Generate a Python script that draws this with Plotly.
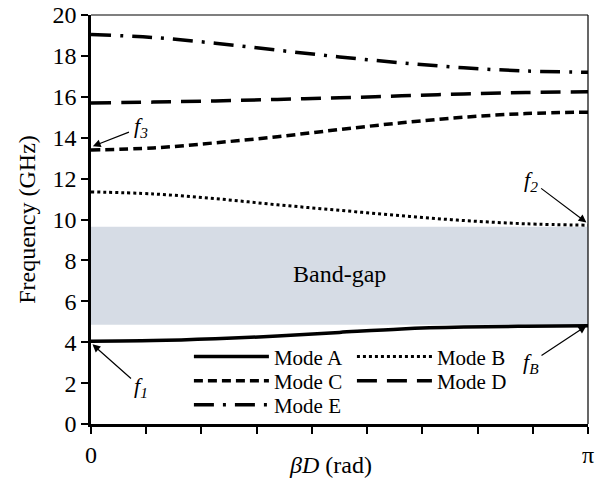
import numpy as np
import plotly.graph_objects as go

PI = np.pi
beta_frac = [0, 0.125, 0.25, 0.375, 0.5, 0.625, 0.75, 0.875, 1.0]
beta = [b * PI for b in beta_frac]

mode_a = [4.05, 4.08, 4.17, 4.30, 4.48, 4.65, 4.74, 4.78, 4.80]
mode_b = [11.35, 11.25, 11.02, 10.72, 10.45, 10.18, 9.95, 9.79, 9.72]
mode_c = [13.40, 13.50, 13.75, 14.05, 14.40, 14.73, 15.00, 15.18, 15.25]
mode_d = [15.70, 15.74, 15.80, 15.87, 15.95, 16.05, 16.14, 16.21, 16.25]
mode_e = [19.05, 18.90, 18.62, 18.28, 17.95, 17.66, 17.42, 17.26, 17.20]

gap_low, gap_high = 4.85, 9.65

FONT = "Times New Roman, Liberation Serif, serif"

fig = go.Figure()

fig.add_shape(type="rect", xref="x", yref="y", x0=0, x1=PI, y0=gap_low, y1=gap_high,
              fillcolor="#d6dce5", line=dict(width=0), layer="below")

series = [
    ("Mode A", mode_a, dict(color="black", width=3.5, dash="solid"), "legend"),
    ("Mode B", mode_b, dict(color="black", width=3, dash="dot"), "legend2"),
    ("Mode C", mode_c, dict(color="black", width=3.5, dash="9px,5px"), "legend3"),
    ("Mode D", mode_d, dict(color="black", width=3.5, dash="20px,10px"), "legend4"),
    ("Mode E", mode_e, dict(color="black", width=3.5, dash="20px,9px,3px,9px"), "legend5"),
]
for name, vals, line, lg in series:
    fig.add_trace(go.Scatter(x=beta, y=vals, mode="lines", name=name, line=dict(shape="spline", **line),
                             legend=lg, showlegend=True))

tickvals = [k * PI / 9 for k in range(10)]
ticktext = ["0"] + [""] * 8 + ["π"]

def leg(x, y):
    return dict(x=x, y=y, xanchor="left", yanchor="middle", bgcolor="rgba(0,0,0,0)",
                font=dict(size=21, family=FONT), itemwidth=75, tracegroupgap=0)

fig.update_layout(
    width=595, height=483,
    margin=dict(l=91, r=7, t=15, b=59),
    paper_bgcolor="white", plot_bgcolor="white",
    font=dict(family=FONT, size=20, color="black"),
    xaxis=dict(range=[0, PI], tickvals=tickvals, ticktext=ticktext, ticks="outside", ticklen=7,
               tickwidth=1.5, tickcolor="black", showline=True, linewidth=2.5, linecolor="black",
               showgrid=False, zeroline=False, tickfont=dict(size=24, family=FONT), automargin=False),
    yaxis=dict(range=[0, 20], dtick=2, ticks="outside", ticklen=7, tickwidth=1.5, tickcolor="black",
               showline=True, linewidth=2.5, linecolor="black", showgrid=False, zeroline=False,
               tickfont=dict(size=24, family=FONT), automargin=False,
               title=dict(text="Frequency (GHz)", font=dict(size=24, family=FONT), standoff=11)),
    legend=leg(0.197, 0.164),
    legend2=leg(0.525, 0.164),
    legend3=leg(0.197, 0.105),
    legend4=leg(0.525, 0.105),
    legend5=leg(0.197, 0.046),
)

# x-axis title
fig.add_annotation(x=0.482, y=0, xref="paper", yref="paper", yanchor="top", yshift=-26,
                   text="<i>βD</i> (rad)", showarrow=False, font=dict(size=24, family=FONT))

# thin frame on top and right
fig.add_shape(type="line", xref="paper", yref="paper", x0=0, x1=1, y0=1, y1=1,
              line=dict(color="black", width=1.2))
fig.add_shape(type="line", xref="paper", yref="paper", x0=1, x1=1, y0=0, y1=1,
              line=dict(color="black", width=1.2))

fig.add_annotation(x=PI * 0.5, y=7.35, text="Band-gap", showarrow=False,
                   font=dict(size=24, family=FONT))

def f_label(sub):
    return "<i>f</i><sub><i>%s</i></sub>" % sub

ann = [
    (f_label("3"), 0, 13.55, 0.1 * PI, 14.5),
    (f_label("1"), 0, 3.96, 0.1 * PI, 1.8),
    (f_label("2"), PI, 9.80, 0.885 * PI, 11.9),
    (f_label("B"), PI, 4.85, 0.885 * PI, 3.0),
]
for text, ax_, ay_, tx, ty in ann:
    fig.add_annotation(x=ax_, y=ay_, ax=tx, ay=ty, axref="x", ayref="y", xref="x", yref="y",
                       text="", showarrow=True, arrowhead=2, arrowsize=1.3, arrowwidth=1.2,
                       arrowcolor="black", standoff=2, startstandoff=11)
    fig.add_annotation(x=tx, y=ty, text=text, showarrow=False, font=dict(size=22, family=FONT))

fig.write_html("out.html", config={"displayModeBar": False},
               post_script="document.body.style.margin='0';")
